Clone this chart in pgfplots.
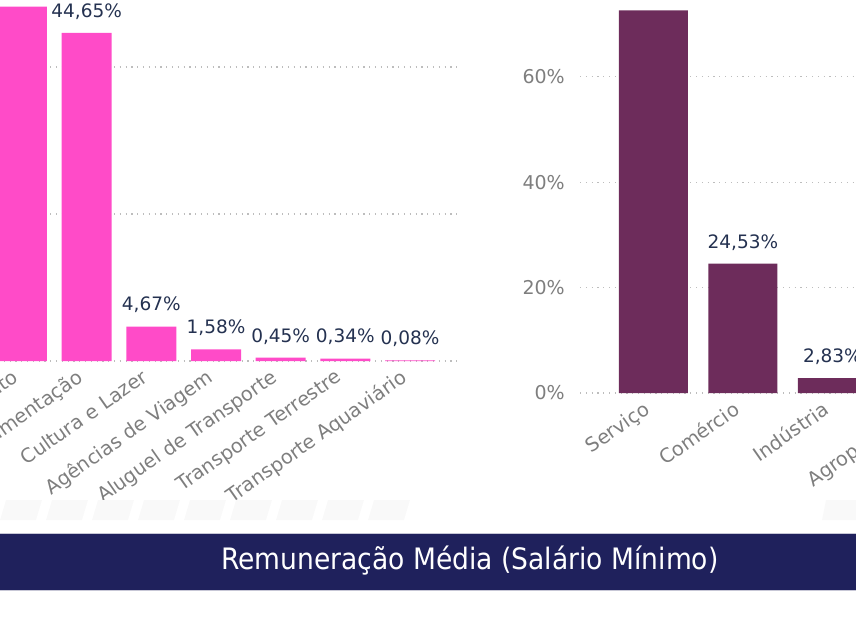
\documentclass[border=0pt]{standalone}
\usepackage{fontspec}
\setmainfont{DejaVu Sans}
\newfontfamily\condfont{DejaVu Sans Condensed}
\usepackage{pgfplots}
\usepackage{pgfplotstable}
\pgfplotsset{compat=1.18}

\definecolor{barpink}{HTML}{FF4BC8}
\definecolor{barplum}{HTML}{6D2C5B}
\definecolor{lblnavy}{HTML}{243150}
\definecolor{tickgray}{HTML}{7E7E7E}
\definecolor{gridgray}{HTML}{BDBDBD}
\definecolor{bannerblue}{HTML}{1F215C}

% participacao por atividade (turismo)
\pgfplotstableread[col sep=comma]{
x,y,cat
0,48.23,Alojamento
1,44.65,Alimentação
2,4.67,Cultura e Lazer
3,1.58,Agências de Viagem
4,0.45,Aluguel de Transporte
5,0.34,Transporte Terrestre
6,0.08,Transporte Aquaviário
}\lefttab

% participacao por setor
\pgfplotstableread[col sep=comma]{
x,y,cat
0,72.60,Serviço
1,24.53,Comércio
2,2.83,Indústria
3,0.04,Agropecuária
}\righttab

\pgfplotsset{
  panel/.style={
    ybar,
    enlargelimits=false,
    clip=false,
    axis line style={draw=none},
    major tick length=0pt,
    ymajorgrids,
    grid style={gridgray, line width=1.1pt, dash pattern=on 1.2pt off 4.6pt},
    xtick=data,
    /pgf/number format/assume math mode=true,
    x tick label style={font=\fontsize{19.5}{21}\selectfont, text=tickgray,
      inner sep=0pt, xshift=-11pt, yshift=-7pt, rotate=35, anchor=north east},
    y tick label style={font=\fontsize{19}{21}\selectfont, text=tickgray,
      inner sep=0pt, anchor=east, xshift=-15pt},
    yticklabel={\pgfmathprintnumber{\tick}\%},
    nodes near coords={\pgfmathprintnumber[fixed,fixed zerofill,precision=2,use comma]{\pgfplotspointmeta}\%},
    every node near coord/.append style={font=\fontsize{18.5}{20}\selectfont,
      text=lblnavy, anchor=south, yshift=10pt},
  },
}

\begin{document}
\begin{tikzpicture}
\begin{scope}
\clip (0pt,0pt) rectangle (856pt,641pt);

\begin{axis}[panel,
    x=64.67pt, y=7.35pt,
    xmin=-1, xmax=6.75, ymin=0, ymax=50,
    ytick={0,20,40},
    xticklabels from table={\lefttab}{cat},
    anchor=south west, at={(-42.67pt,280pt)},
  ]
  \addplot[fill=barpink, draw=none, bar width=50pt] table[x=x,y=y]{\lefttab};
\end{axis}

\begin{axis}[panel,
    x=89.5pt, y=5.27pt,
    xmin=-0.82, xmax=3.5, ymin=0, ymax=80,
    ytick={0,20,40,60,80},
    xticklabels from table={\righttab}{cat},
    anchor=south west, at={(580pt,248pt)},
  ]
  \addplot[fill=barplum, draw=none, bar width=69pt] table[x=x,y=y]{\righttab};
\end{axis}

% faixa clara abaixo dos graficos
\foreach \i in {0,...,8} {
  \fill[gray!5] (\i*46pt,121pt) -- ++(36pt,0pt) -- ++(6pt,20pt) -- ++(-36pt,0pt) -- cycle;
}
\fill[gray!5] (822pt,121pt) -- ++(34pt,0pt) -- ++(0pt,20pt) -- ++(-30pt,0pt) -- cycle;

% barra de titulo
\fill[bannerblue] (0pt,51pt) rectangle (856pt,108pt);
\draw[white!75!bannerblue, line width=1pt] (0pt,108pt) -- (856pt,108pt);
\draw[white!75!bannerblue, line width=1pt] (0pt,51pt) -- (856pt,51pt);
\node[text=white, font=\condfont\fontsize{29.5}{33}\selectfont] at (470pt,80pt)
  {Remuneração Média (Salário Mínimo)};
\end{scope}
\pgfresetboundingbox
\useasboundingbox (0pt,0pt) rectangle (856pt,641pt);
\end{tikzpicture}
\end{document}
